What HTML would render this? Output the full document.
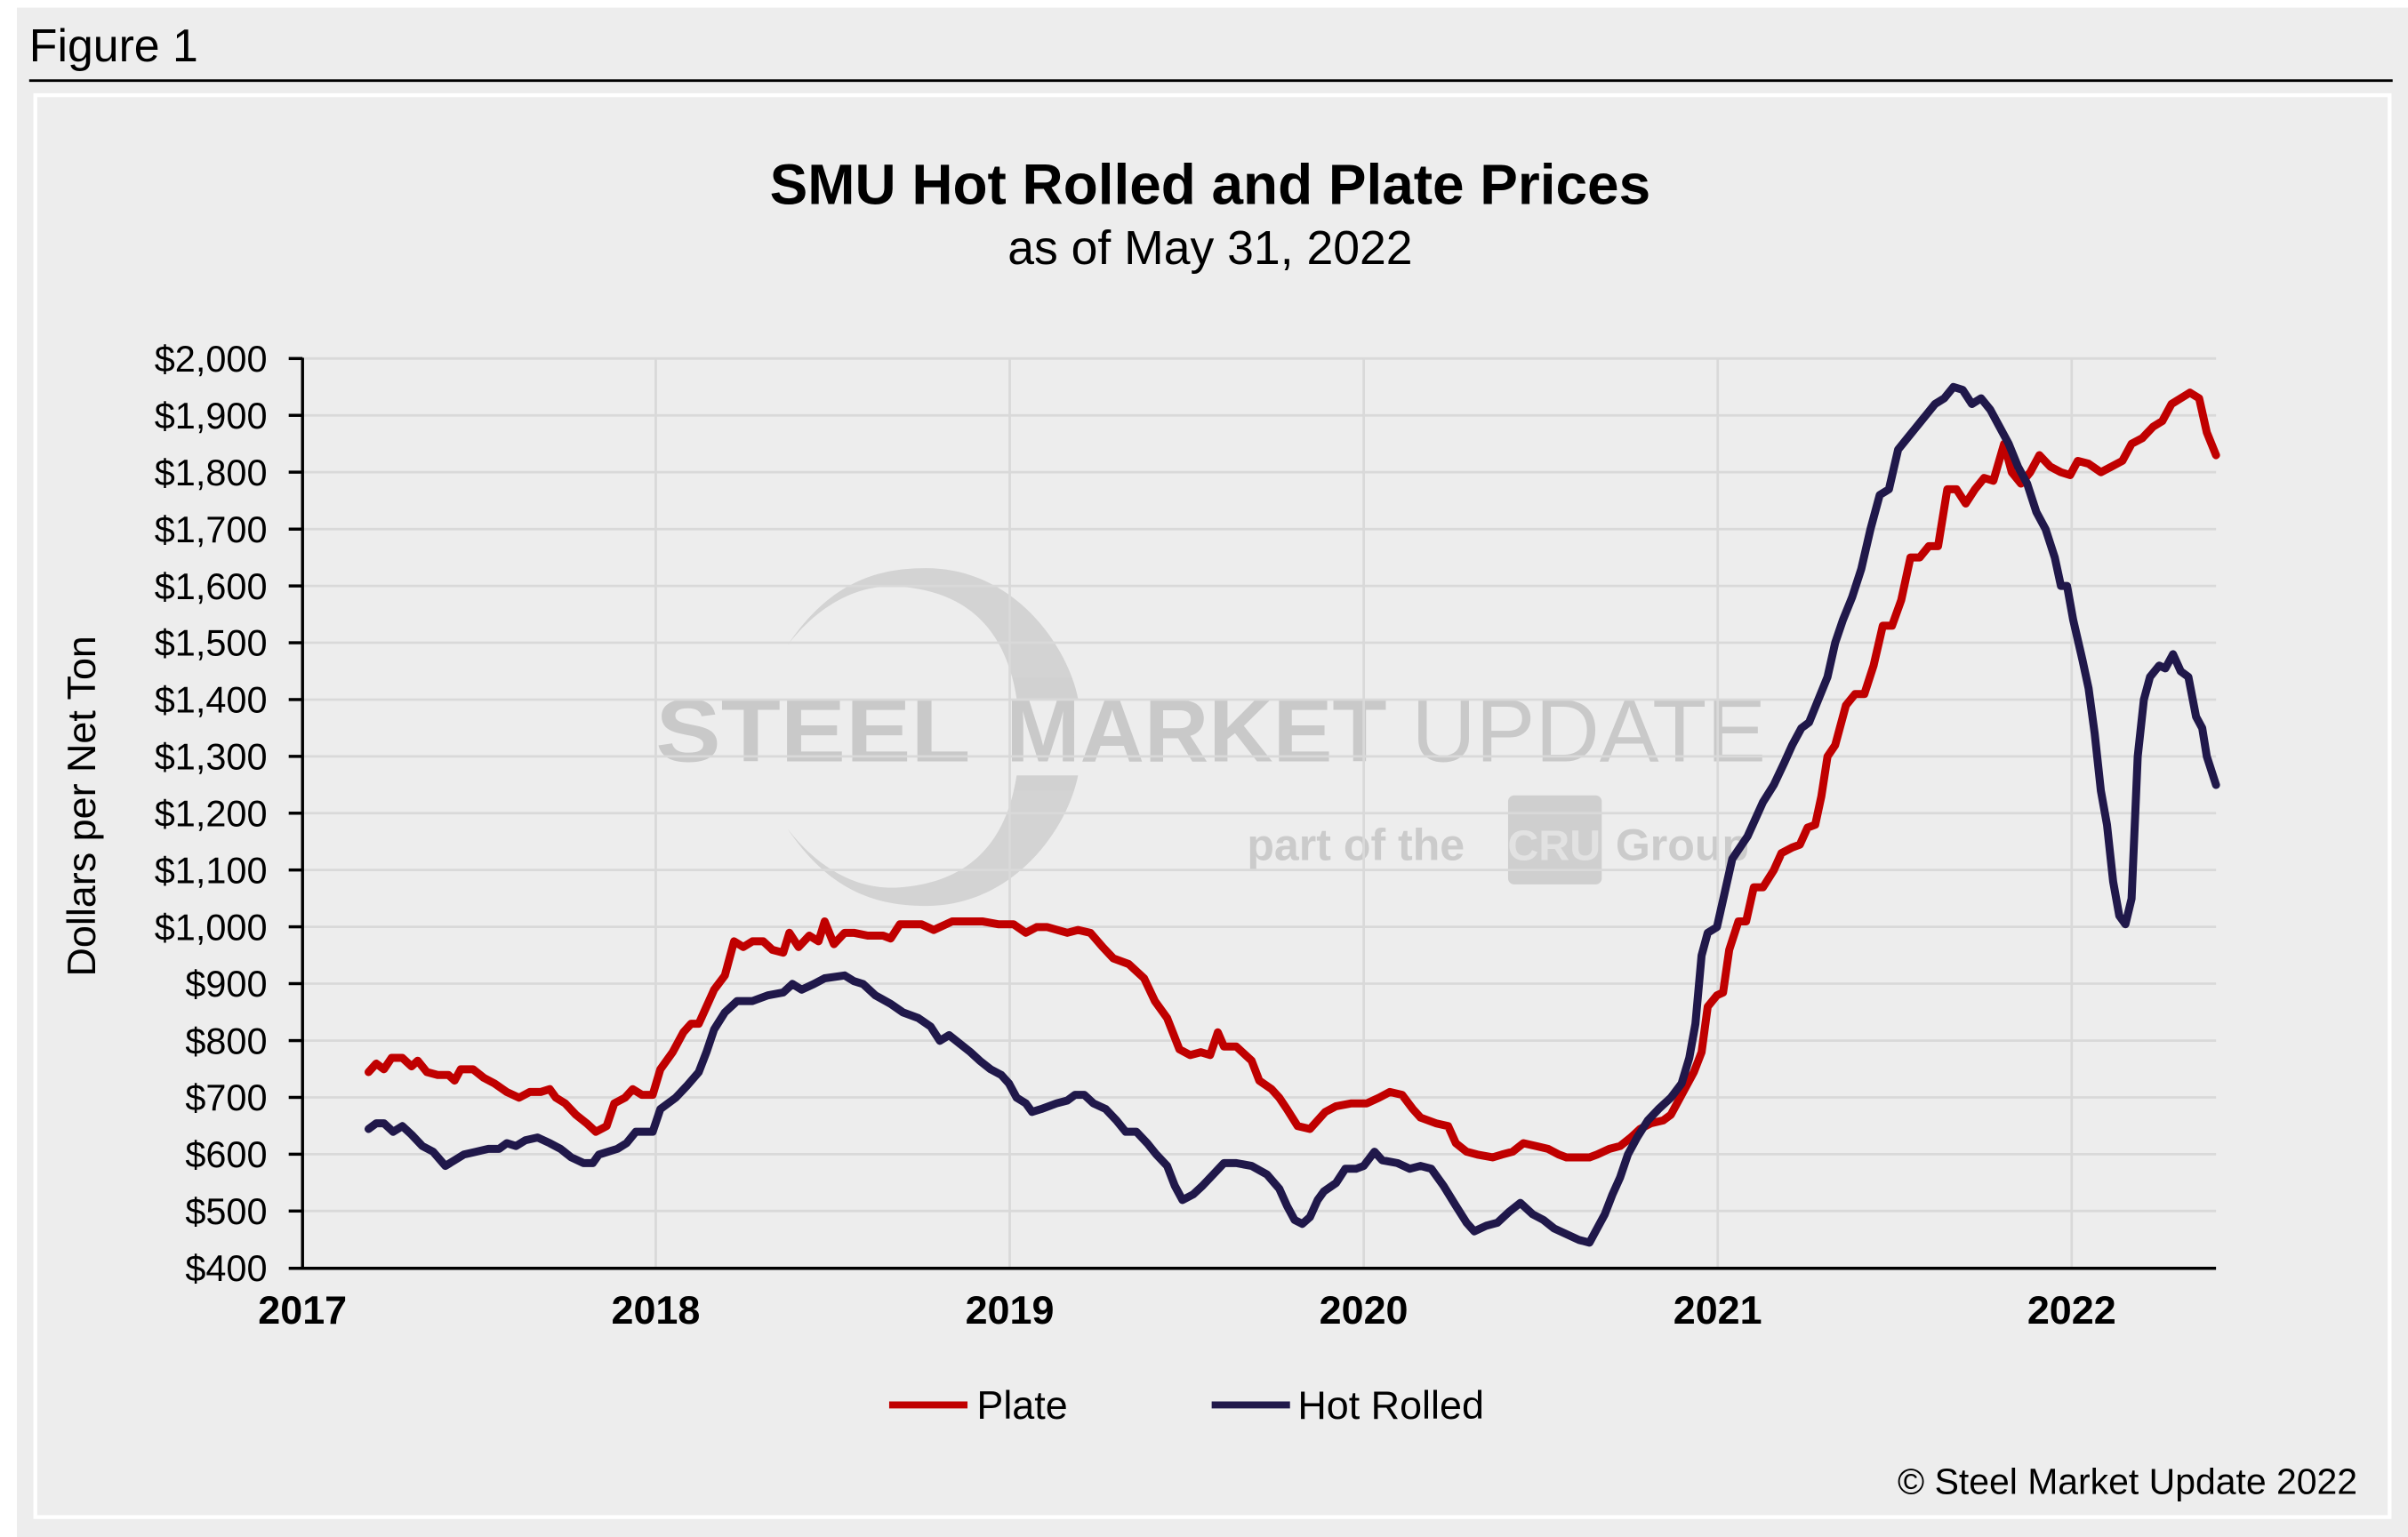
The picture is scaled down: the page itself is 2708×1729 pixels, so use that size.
<!DOCTYPE html>
<html><head><meta charset="utf-8"><style>
html,body{margin:0;padding:0;background:#fff;}
svg{display:block;}
text{font-family:"Liberation Sans",Arial,sans-serif;}
</style></head><body>
<svg width="2708" height="1729" viewBox="0 0 1568 1001" preserveAspectRatio="none" xmlns="http://www.w3.org/2000/svg">
<rect x="11" y="5" width="1557" height="996" fill="#ededed"/>
<text x="19" y="40" font-size="30" fill="#000">Figure 1</text>
<line x1="19" y1="52.5" x2="1558" y2="52.5" stroke="#000" stroke-width="1.6"/>
<rect x="23" y="62" width="1533" height="926" fill="#ededed" stroke="#fff" stroke-width="2.5"/>
<text x="788" y="133" font-size="37" font-weight="bold" text-anchor="middle">SMU Hot Rolled and Plate Prices</text>
<text x="788" y="172" font-size="31" text-anchor="middle">as of May 31, 2022</text>
<g fill="#cfcfcf" opacity="0.9">
<path d="M513,420 C540,380 570,370 603,370 C660,370 695,420 702,455 L662,455 C655,410 630,385 585,382 C555,380 530,398 513,420 Z"/>
<path d="M513,540 C540,580 570,590 603,590 C660,590 695,540 702,505 L662,505 C655,550 630,575 585,578 C555,580 530,562 513,540 Z"/>
</g>
<text x="427" y="496" font-size="58" font-weight="bold" fill="#c9c9c9" textLength="205" lengthAdjust="spacingAndGlyphs">STEEL</text>
<text x="655" y="496" font-size="58" fill="#c9c9c9" textLength="495" lengthAdjust="spacingAndGlyphs"><tspan font-weight="bold">MARKET</tspan> UPDATE</text>
<text x="812" y="560" font-size="29" font-weight="bold" fill="#cbcbcb">part of the</text>
<rect x="982" y="518" width="61" height="58" rx="4" fill="#cfcfcf"/>
<text x="1012" y="560" font-size="28" font-weight="bold" fill="#e2e2e2" text-anchor="middle">CRU</text>
<text x="1052" y="560" font-size="29" font-weight="bold" fill="#cbcbcb">Group</text>
<g stroke="#d9d9d9" stroke-width="1.6">
<line x1="197" x2="1443" y1="233.5" y2="233.5"/><line x1="197" x2="1443" y1="270.5" y2="270.5"/><line x1="197" x2="1443" y1="307.5" y2="307.5"/><line x1="197" x2="1443" y1="344.6" y2="344.6"/><line x1="197" x2="1443" y1="381.6" y2="381.6"/><line x1="197" x2="1443" y1="418.6" y2="418.6"/><line x1="197" x2="1443" y1="455.6" y2="455.6"/><line x1="197" x2="1443" y1="492.6" y2="492.6"/><line x1="197" x2="1443" y1="529.6" y2="529.6"/><line x1="197" x2="1443" y1="566.6" y2="566.6"/><line x1="197" x2="1443" y1="603.6" y2="603.6"/><line x1="197" x2="1443" y1="640.6" y2="640.6"/><line x1="197" x2="1443" y1="677.7" y2="677.7"/><line x1="197" x2="1443" y1="714.7" y2="714.7"/><line x1="197" x2="1443" y1="751.7" y2="751.7"/><line x1="197" x2="1443" y1="788.7" y2="788.7"/>
<line x1="427" x2="427" y1="233" y2="826"/><line x1="657.5" x2="657.5" y1="233" y2="826"/><line x1="888" x2="888" y1="233" y2="826"/><line x1="1118.5" x2="1118.5" y1="233" y2="826"/><line x1="1349" x2="1349" y1="233" y2="826"/>
</g>
<g stroke="#000" stroke-width="2">
<line x1="197" y1="233" x2="197" y2="826"/><line x1="188" y1="826" x2="1443" y2="826"/>
<line x1="188" x2="197" y1="233.5" y2="233.5"/><line x1="188" x2="197" y1="270.5" y2="270.5"/><line x1="188" x2="197" y1="307.5" y2="307.5"/><line x1="188" x2="197" y1="344.6" y2="344.6"/><line x1="188" x2="197" y1="381.6" y2="381.6"/><line x1="188" x2="197" y1="418.6" y2="418.6"/><line x1="188" x2="197" y1="455.6" y2="455.6"/><line x1="188" x2="197" y1="492.6" y2="492.6"/><line x1="188" x2="197" y1="529.6" y2="529.6"/><line x1="188" x2="197" y1="566.6" y2="566.6"/><line x1="188" x2="197" y1="603.6" y2="603.6"/><line x1="188" x2="197" y1="640.6" y2="640.6"/><line x1="188" x2="197" y1="677.7" y2="677.7"/><line x1="188" x2="197" y1="714.7" y2="714.7"/><line x1="188" x2="197" y1="751.7" y2="751.7"/><line x1="188" x2="197" y1="788.7" y2="788.7"/>
</g>
<g font-size="24" text-anchor="end">
<text x="174" y="242">$2,000</text><text x="174" y="279">$1,900</text><text x="174" y="316">$1,800</text><text x="174" y="353.1">$1,700</text><text x="174" y="390.1">$1,600</text><text x="174" y="427.1">$1,500</text><text x="174" y="464.1">$1,400</text><text x="174" y="501.1">$1,300</text><text x="174" y="538.1">$1,200</text><text x="174" y="575.1">$1,100</text><text x="174" y="612.1">$1,000</text><text x="174" y="649.1">$900</text><text x="174" y="686.2">$800</text><text x="174" y="723.2">$700</text><text x="174" y="760.2">$600</text><text x="174" y="797.2">$500</text><text x="174" y="834.2">$400</text>
</g>
<g font-size="26" font-weight="bold" text-anchor="middle">
<text x="197" y="862">2017</text><text x="427" y="862">2018</text><text x="657.5" y="862">2019</text><text x="888" y="862">2020</text><text x="1118.5" y="862">2021</text><text x="1349" y="862">2022</text>
</g>
<text transform="translate(62,525) rotate(-90)" font-size="26" text-anchor="middle">Dollars per Net Ton</text>
<g transform="matrix(1 0 0 -0.3703 0 974.1)" fill="none" stroke-linejoin="round" stroke-linecap="round">
<polyline vector-effect="non-scaling-stroke" stroke="#c00000" stroke-width="9" points="240,745 245,760 250,750 255,770 262,770 268,755 272,765 278,745 285,740 292,740 296,730 300,750 308,750 315,735 322,725 330,710 338,700 345,710 352,710 358,715 362,700 368,690 375,670 382,655 388,640 395,650 400,690 407,700 412,715 418,705 425,705 430,750 438,780 445,815 450,830 455,830 460,860 465,890 472,915 478,975 484,965 490,975 497,975 503,960 510,955 514,990 520,965 527,985 533,975 537,1010 543,970 550,990 556,990 565,985 575,985 580,980 586,1005 600,1005 608,995 620,1010 640,1010 650,1005 660,1005 668,990 675,1000 682,1000 695,990 702,995 710,990 718,965 725,945 735,935 745,910 752,870 760,840 768,785 775,775 782,780 788,775 793,815 797,790 805,790 815,765 820,730 828,715 833,700 838,680 845,650 853,645 858,660 863,675 870,685 880,690 890,690 898,700 905,710 913,705 920,680 925,665 935,655 943,650 948,620 955,605 962,600 972,595 978,600 985,605 992,620 1000,615 1008,610 1015,600 1020,595 1035,595 1040,600 1048,610 1055,615 1062,630 1068,645 1075,655 1083,660 1088,670 1092,690 1098,720 1103,745 1108,780 1112,860 1118,880 1122,885 1126,960 1132,1010 1137,1010 1142,1070 1148,1070 1155,1100 1160,1130 1167,1140 1172,1145 1177,1175 1182,1180 1186,1230 1190,1300 1195,1320 1202,1390 1208,1410 1214,1410 1220,1460 1226,1530 1232,1530 1238,1575 1244,1650 1250,1650 1256,1670 1262,1670 1268,1770 1274,1770 1280,1745 1286,1770 1292,1790 1298,1785 1305,1850 1310,1800 1316,1780 1322,1800 1328,1830 1335,1810 1342,1800 1348,1795 1353,1820 1360,1815 1368,1800 1375,1810 1382,1820 1388,1850 1395,1860 1402,1880 1408,1890 1414,1920 1420,1930 1426,1940 1432,1930 1437,1870 1443,1830"/>
<polyline vector-effect="non-scaling-stroke" stroke="#20184a" stroke-width="9" points="240,645 245,655 250,655 256,640 262,650 268,635 275,615 282,605 290,580 296,590 302,600 310,605 318,610 325,610 330,620 336,615 342,625 350,630 358,620 365,610 372,595 380,585 386,585 390,600 396,605 402,610 408,620 414,640 425,640 430,680 440,700 447,720 455,745 460,780 465,820 472,850 480,870 490,870 500,880 510,885 516,900 522,890 530,900 537,910 550,915 556,905 562,900 570,880 580,865 588,850 598,840 606,825 612,800 618,810 625,795 632,780 638,765 645,750 652,740 657,725 662,700 668,690 672,675 678,680 688,690 695,695 700,705 706,705 712,690 720,680 727,660 733,640 740,640 747,620 753,600 760,580 765,545 770,520 777,530 783,545 790,565 797,585 805,585 815,580 825,565 833,540 838,510 843,485 848,478 853,490 858,520 862,535 870,550 876,575 883,575 888,580 895,605 900,590 910,585 918,575 925,580 932,575 940,545 948,510 955,480 960,465 968,475 975,480 983,500 990,515 998,495 1005,485 1012,470 1020,460 1028,450 1035,445 1040,470 1045,495 1050,530 1055,560 1060,600 1066,630 1073,660 1080,680 1088,700 1095,725 1100,770 1104,830 1108,950 1112,990 1118,1000 1123,1060 1128,1120 1133,1140 1138,1160 1143,1190 1148,1220 1155,1250 1162,1290 1167,1320 1173,1350 1178,1360 1184,1400 1190,1440 1195,1500 1200,1540 1206,1580 1212,1630 1218,1700 1224,1760 1230,1770 1236,1840 1242,1860 1248,1880 1254,1900 1260,1920 1266,1930 1272,1950 1278,1945 1284,1920 1290,1930 1296,1910 1302,1880 1308,1850 1314,1810 1320,1780 1326,1730 1332,1700 1338,1650 1342,1600 1346,1600 1350,1540 1356,1470 1360,1420 1364,1340 1368,1240 1372,1180 1376,1080 1380,1020 1384,1005 1388,1050 1392,1300 1396,1400 1400,1440 1406,1460 1410,1455 1415,1480 1420,1450 1425,1440 1430,1370 1434,1350 1437,1300 1443,1250"/>
</g>
<line x1="579" y1="915" x2="630" y2="915" stroke="#c00000" stroke-width="4.6"/>
<text x="636" y="924" font-size="26">Plate</text>
<line x1="789" y1="915" x2="840" y2="915" stroke="#20184a" stroke-width="4.6"/>
<text x="845" y="924" font-size="26">Hot Rolled</text>
<text x="1535" y="973" font-size="23.7" text-anchor="end">© Steel Market Update 2022</text>
</svg>
</body></html>
